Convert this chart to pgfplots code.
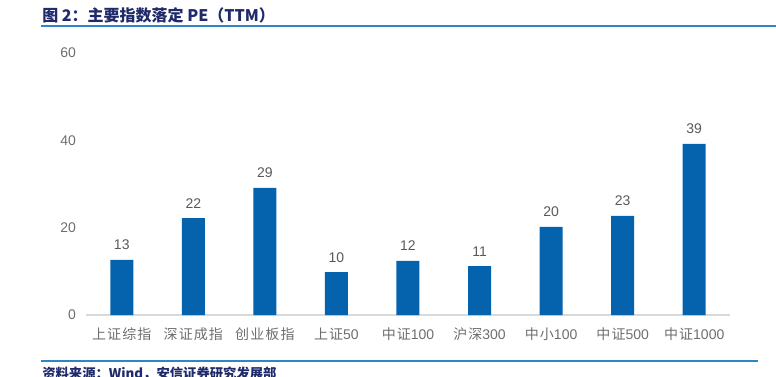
\documentclass[border=0pt]{standalone}
\usepackage{pgfplots}
\pgfplotsset{compat=1.18}
\usepackage{fontspec}
\setmainfont{Liberation Sans}
\newfontfamily\cjk{Noto Sans CJK SC}
\newfontfamily\cjkl[LetterSpace=8]{Noto Sans CJK SC}
\definecolor{barblue}{HTML}{0563AE}
\definecolor{titlenavy}{HTML}{1F2A6B}
\definecolor{lineblue}{HTML}{2E86C8}
\definecolor{txtgray}{HTML}{595959}
\definecolor{lblgray}{HTML}{6E6E6E}
\definecolor{axgray}{HTML}{D9D9D9}
\begin{document}
\begin{tikzpicture}
\clip (0pt,0pt) rectangle (582pt,282pt);
\path[use as bounding box] (0pt,0pt) rectangle (582pt,282pt);
\node[anchor=west,text=titlenavy,font=\cjk\bfseries\fontsize{12}{14}\selectfont,inner sep=0pt] at (31.5pt,270.5pt) {图 2：主要指数落定 PE（TTM）};
\draw[lineblue,line width=1pt] (30.75pt,262.5pt) -- (582pt,262.5pt);
\draw[lineblue,line width=1pt] (30.75pt,11.25pt) -- (568.5pt,11.25pt);
\node[anchor=west,text=titlenavy,font=\cjk\bfseries\fontsize{10}{12}\selectfont,inner sep=0pt] at (31.5pt,1.5pt) {资料来源：Wind，安信证券研究发展部};
\begin{axis}[
  at={(64.5pt,45.75pt)}, anchor=south west,
  scale only axis, width=483pt, height=196.5pt,
  xmin=-0.5, xmax=8.5, ymin=0, ymax=60,
  axis lines*=left,
  x axis line style={axgray,line width=1pt,-},
  y axis line style={draw=none},
  ytick={0,20,40,60},
  xtick={0,...,8},
  xticklabels={{\cjkl 上证综指},{\cjkl 深证成指},{\cjkl 创业板指},{\cjkl 上证}50,{\cjkl 中证}100,{\cjkl 沪深}300,{\cjkl 中小}100,{\cjkl 中证}500,{\cjkl 中证}1000},
  major tick length=0pt,
  xticklabel style={text=lblgray,font=\fontsize{10.5}{12}\selectfont,yshift=-6pt},
  yticklabel style={text=lblgray,font=\fontsize{10.5}{12}\selectfont,xshift=-4pt},
  /pgf/number format/assume math mode=true,
  clip=false,
  nodes near coords,
  point meta=explicit symbolic,
  every node near coord/.append style={text=txtgray,font=\fontsize{10.5}{12}\selectfont,yshift=4pt},
]
\addplot[ybar, bar width=17.25pt, fill=barblue, draw=none] coordinates {
(0,12.6) [13]
(1,22.2) [22]
(2,29.1) [29]
(3,9.8) [10]
(4,12.4) [12]
(5,11.2) [11]
(6,20.2) [20]
(7,22.7) [23]
(8,39.2) [39]
};
\end{axis}
\end{tikzpicture}
\end{document}
